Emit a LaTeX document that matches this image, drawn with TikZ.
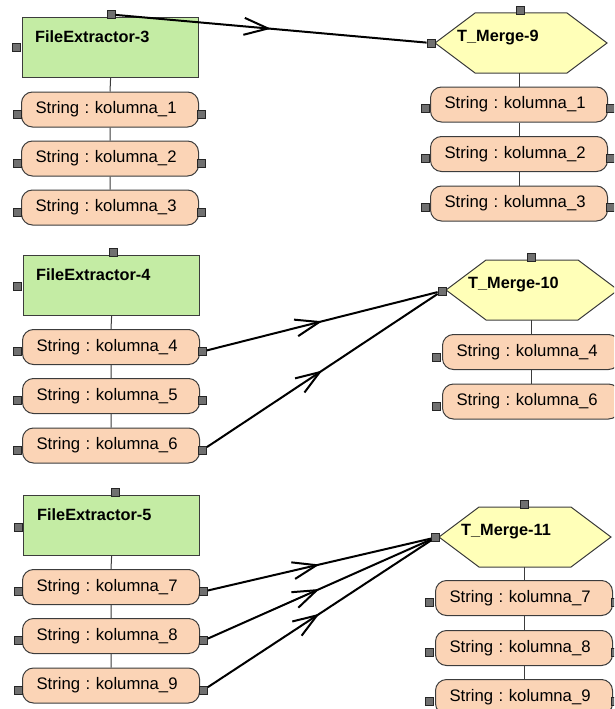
\documentclass[tikz,border=0pt]{standalone}
\usepackage{fontspec}
\setmainfont{Liberation Sans}
\usetikzlibrary{arrows.meta,decorations.markings,calc}

\definecolor{fegreen}{RGB}{196,236,164}
\definecolor{strpeach}{RGB}{251,212,182}
\definecolor{tmyellow}{RGB}{255,255,184}
\definecolor{portgray}{RGB}{112,112,112}
\definecolor{edgegray}{RGB}{60,60,60}
\frenchspacing

\begin{document}
\begin{tikzpicture}[x=1pt,y=-1pt,
  fext/.style={draw=edgegray, line width=1.2pt, fill=fegreen, anchor=north west, minimum width=176pt, minimum height=60pt, inner sep=0pt},
  hexa/.style={draw=edgegray, line width=1pt, fill=tmyellow},
  title/.style={anchor=west, inner sep=0pt, font=\fontsize{16.3}{18}\selectfont\bfseries},
  strbox/.style={draw=edgegray, line width=1pt, fill=strpeach, rounded corners=11pt, minimum height=35pt, text width=149pt, inner xsep=14pt, align=left, font=\fontsize{16.7}{19}\selectfont},
  port/.style={draw=black!85, fill=portgray, line width=0.8pt, minimum size=8pt, inner sep=0pt},
  link/.style={draw=edgegray, line width=1pt},
  conn/.style={line width=2pt, postaction={decorate}, decoration={markings, mark=at position 0.5 with {\arrow{Straight Barb[length=24pt,width=17pt]}}}}
]
\clip (0,0) rectangle (614,709);

% first group
\node[fext] (fe3) at (22,17) {};
\node[title] (fe3t) at (35,37) {FileExtractor-3};
\node[strbox] (a1) at (110,109.5) {String : kolumna\_1};
\node[strbox] (a2) at (110,158.5) {String : kolumna\_2};
\node[strbox] (a3) at (110,207.5) {String : kolumna\_3};
\draw[link] (fe3.south) -- (a1.north) (a1.south) -- (a2.north) (a2.south) -- (a3.north);
\node[port] (fe3p) at (111,14.5) {};
\node[port] (fe3w) at (16,47) {};
\node[port] (a1w) at (17,114) {}; \node[port] (a1e) at (201,114) {};
\node[port] (a2w) at (17,163) {}; \node[port] (a2e) at (201,163) {};
\node[port] (a3w) at (17,212) {}; \node[port] (a3e) at (201,212) {};

\coordinate (tm9) at (435,43);
\draw[hexa] (tm9) -- ++(40,-30) -- ++(92,0) -- ++(40,30) -- ++(-40,30) -- ++(-92,0) -- cycle;
\coordinate (tm9s) at (519,73);
\node[title] (tm9t) at (457,37.5) {T\_Merge-9};
\node[strbox] (b1) at (519,104.5) {String : kolumna\_1};
\node[strbox] (b2) at (519,154) {String : kolumna\_2};
\node[strbox] (b3) at (519,203.5) {String : kolumna\_3};
\draw[link] (tm9s) -- (b1.north) (b1.south) -- (b2.north) (b2.south) -- (b3.north);
\node[port] (tm9p) at (520,10.5) {};
\node[port] (tm9w) at (431,43) {};
\node[port] (b1w) at (425,108.5) {}; \node[port] (b1e) at (610,108.5) {};
\node[port] (b2w) at (425,158) {}; \node[port] (b2e) at (610,158) {};
\node[port] (b3w) at (425,207.5) {}; \node[port] (b3e) at (610,207.5) {};

\draw[conn] (fe3p) -- (tm9w);

% second group
\node[fext] (fe4) at (23,255) {};
\node[title] (fe4t) at (36,274.5) {FileExtractor-4};
\node[strbox] (c4) at (111,347) {String : kolumna\_4};
\node[strbox] (c5) at (111,396) {String : kolumna\_5};
\node[strbox] (c6) at (111,445.5) {String : kolumna\_6};
\draw[link] (fe4.south) -- (c4.north) (c4.south) -- (c5.north) (c5.south) -- (c6.north);
\node[port] (fe4p) at (113,252.5) {};
\node[port] (fe4w) at (17,286) {};
\node[port] (c4w) at (17,351.5) {}; \node[port] (c4e) at (202.5,351.5) {};
\node[port] (c5w) at (17,400.5) {}; \node[port] (c5e) at (202.5,400.5) {};
\node[port] (c6w) at (17,450) {}; \node[port] (c6e) at (202.5,450) {};

\coordinate (tm10) at (446,290);
\draw[hexa] (tm10) -- ++(40,-30) -- ++(92,0) -- ++(40,30) -- ++(-40,30) -- ++(-92,0) -- cycle;
\coordinate (tm10s) at (531,320);
\node[title] (tm10t) at (468,285) {T\_Merge-10};
\node[strbox] (d4) at (531,352) {String : kolumna\_4};
\node[strbox] (d6) at (531,401.5) {String : kolumna\_6};
\draw[link] (tm10s) -- (d4.north) (d4.south) -- (d6.north);
\node[port] (tm10p) at (531,257) {};
\node[port] (tm10w) at (442,291) {};
\node[port] (d4w) at (436,357) {};
\node[port] (d6w) at (436,406) {};

\draw[conn] (c4e) -- (tm10w);
\draw[conn] (c6e) -- (tm10w);

% third group
\node[fext] (fe5) at (23,495) {};
\node[title] (fe5t) at (37,515) {FileExtractor-5};
\node[strbox] (e7) at (111,587) {String : kolumna\_7};
\node[strbox] (e8) at (111,636) {String : kolumna\_8};
\node[strbox] (e9) at (111,685.5) {String : kolumna\_9};
\draw[link] (fe5.south) -- (e7.north) (e7.south) -- (e8.north) (e8.south) -- (e9.north);
\node[port] (fe5p) at (115,492.5) {};
\node[port] (fe5w) at (18,527) {};
\node[port] (e7w) at (18,591.5) {}; \node[port] (e7e) at (203.5,591.5) {};
\node[port] (e8w) at (18,640.5) {}; \node[port] (e8e) at (203.5,640.5) {};
\node[port] (e9w) at (18,690) {}; \node[port] (e9e) at (203.5,690) {};

\coordinate (tm11) at (439,537);
\draw[hexa] (tm11) -- ++(40,-30) -- ++(92,0) -- ++(40,30) -- ++(-40,30) -- ++(-92,0) -- cycle;
\coordinate (tm11s) at (524,567);
\node[title] (tm11t) at (461,532) {T\_Merge-11};
\node[strbox] (f7) at (524,598) {String : kolumna\_7};
\node[strbox] (f8) at (524,648) {String : kolumna\_8};
\node[strbox] (f9) at (524,697) {String : kolumna\_9};
\draw[link] (tm11s) -- (f7.north) (f7.south) -- (f8.north) (f8.south) -- (f9.north);
\node[port] (tm11p) at (524.5,504.5) {};
\node[port] (tm11w) at (435.5,537.5) {};
\node[port] (f7w) at (429,602) {}; \node[port] (f7e) at (615,602) {};
\node[port] (f8w) at (429,652) {}; \node[port] (f8e) at (615,652) {};
\node[port] (f9w) at (429,701) {}; \node[port] (f9e) at (615,701) {};

\draw[conn] (e7e) -- (tm11w);
\draw[conn] (e8e) -- (tm11w);
\draw[conn] (e9e) -- (tm11w);
\end{tikzpicture}
\end{document}
